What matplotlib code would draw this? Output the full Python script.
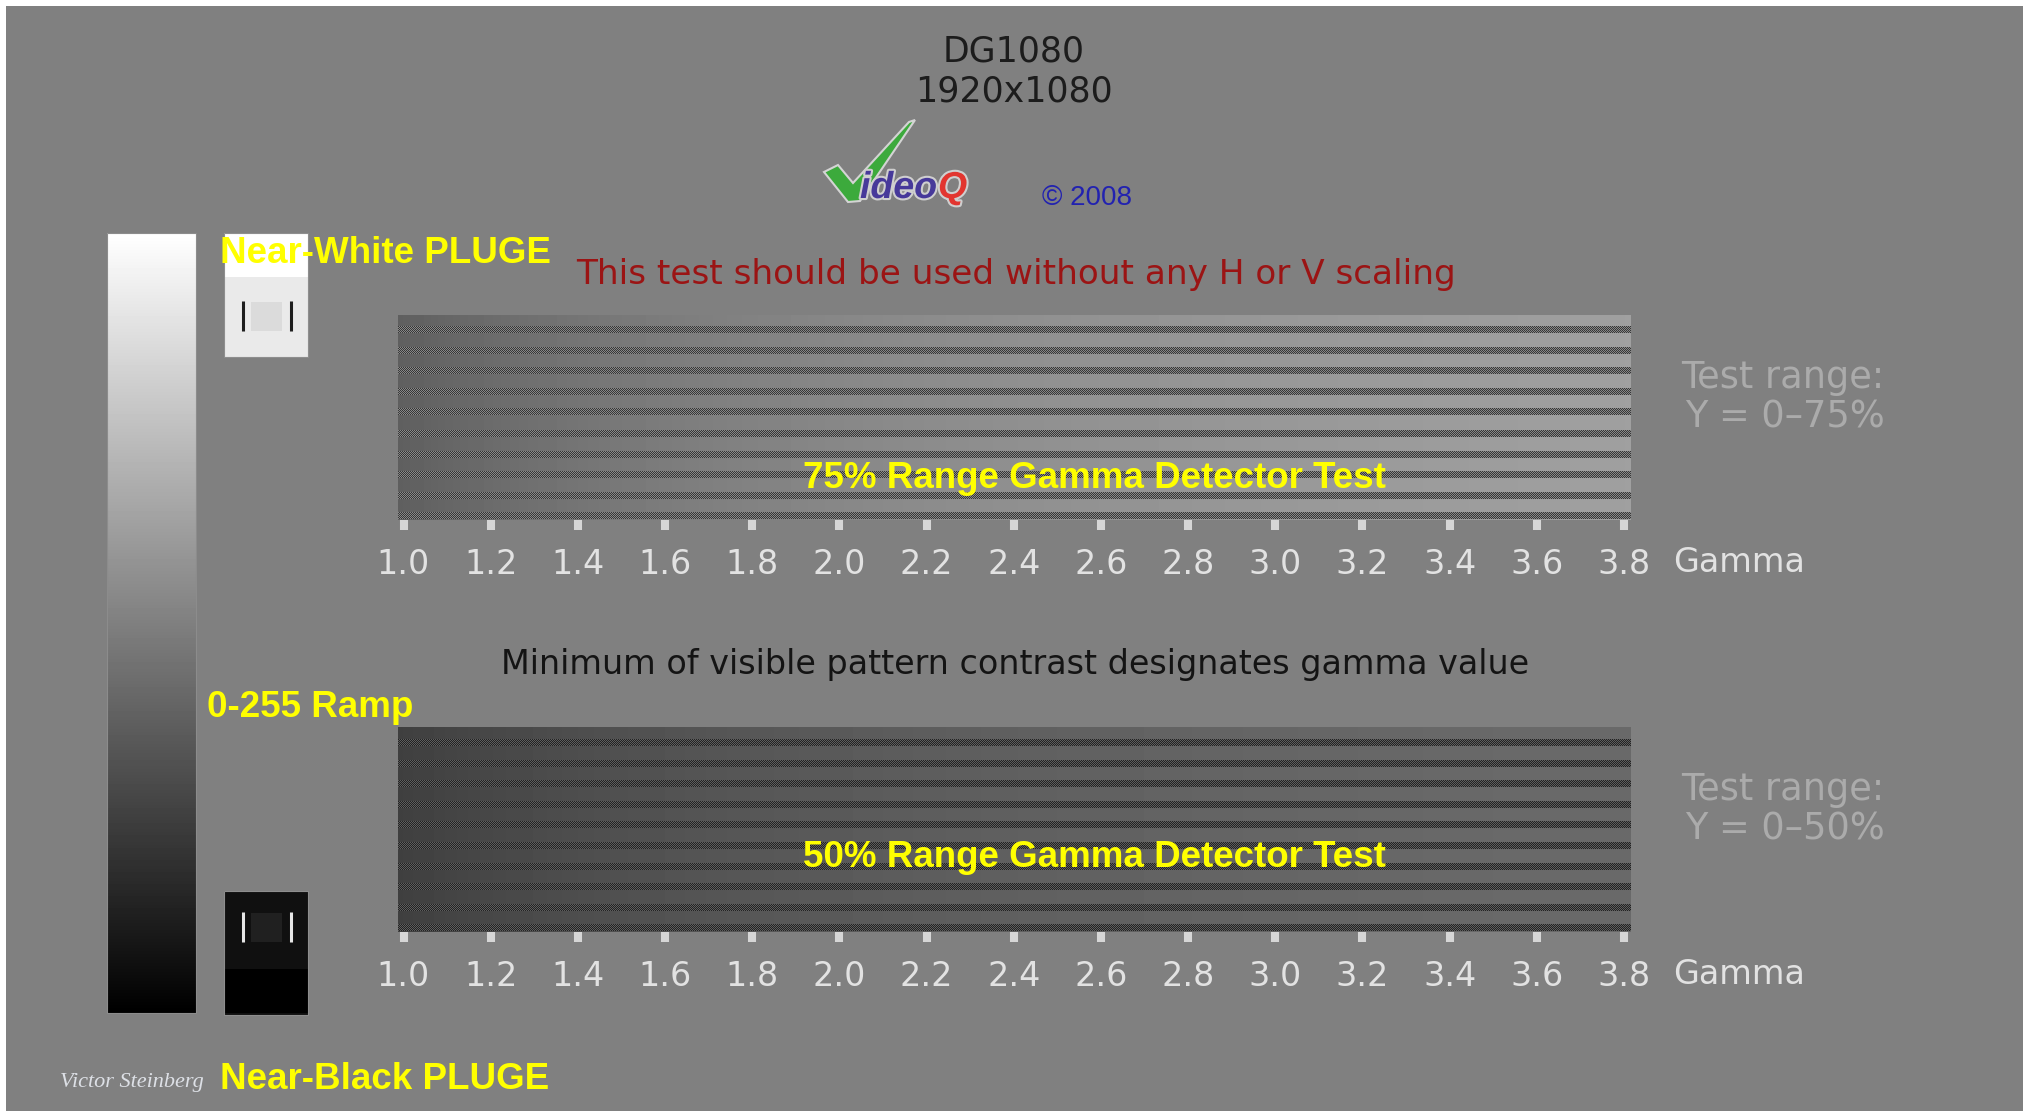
import numpy as np
import matplotlib
matplotlib.use("Agg")
import matplotlib.pyplot as plt
from matplotlib.patches import Rectangle, Polygon
import matplotlib.patheffects as pe

W, H = 2023, 1111

# --- pattern data ---
gamma_ticks = [1.0, 1.2, 1.4, 1.6, 1.8, 2.0, 2.2, 2.4, 2.6, 2.8, 3.0, 3.2, 3.4, 3.6, 3.8]
gamma_labels = ["%.1f" % g for g in gamma_ticks]
test_range = [75, 50]          # Y range of each detector, %
checker_lo = [55, 35]          # checkerboard pixel levels, 8 bit
checker_hi = [136, 93]
ramp_levels = np.arange(256)   # 0-255 ramp
near_white = [255, 234, 219]   # band, field, centre patch
near_black = [0, 16, 32]
bg_level = 128


def g8(v):
    v = v / 255.0
    return (v, v, v)


fig = plt.figure(figsize=(W / 100, H / 100), dpi=100, facecolor="white")

# base layer in pixel coordinates
ax = fig.add_axes([0, 0, 1, 1])
ax.add_patch(Rectangle((6, 6), W - 6, H - 6, color=g8(bg_level), lw=0, zorder=-5))

# 0-255 ramp
ax.imshow(ramp_levels[::-1].reshape(-1, 1), cmap="gray", vmin=0, vmax=255,
          extent=(107, 196, 1013, 233), aspect="auto", interpolation="bilinear", zorder=0)
ax.add_patch(Rectangle((107, 233), 89, 780, fill=False, ec="#8c8c8c", lw=0.8))
ax.set_xlim(0, W)
ax.set_ylim(H, 0)
ax.axis("off")

# PLUGE boxes
def pluge(top, levels, band_top, line_col):
    band, field, patch = levels
    ax.add_patch(Rectangle((224, top), 84, 124, color=g8(field), lw=0))
    if band_top:
        ax.add_patch(Rectangle((224, top), 84, 44, color=g8(band), lw=0))
        cy = top + 69
    else:
        ax.add_patch(Rectangle((224, top + 78), 84, 44, color=g8(band), lw=0))
        cy = top + 22
    ax.add_patch(Rectangle((251, cy), 31, 29, color=g8(patch), lw=0))
    ax.plot([243, 243], [cy - 1, cy + 29], color=line_col, lw=2.2, solid_capstyle="butt")
    ax.plot([291, 291], [cy - 1, cy + 29], color=line_col, lw=2.2, solid_capstyle="butt")
    ax.add_patch(Rectangle((224, top), 84, 124, fill=False, ec="#8e8e8e", lw=0.8))

pluge(233, near_white, True, "#1e1e1e")
pluge(891, near_black, False, "#e6e6e6")

# VideoQ logo
check = Polygon([(824, 172), (838, 165), (853, 183), (909, 122), (915, 120), (860, 201), (848, 202)],
                closed=True, fc="#3caa3c", ec="#d4d4d4", lw=1.5)
ax.add_patch(check)

# --- gamma detector bars ---
bar_top = [315, 727]
bar_x0, bar_x1, bar_h = 398, 1631, 205
px_per_gamma = 435.9
x_g1 = 403.5
g_lo = gamma_ticks[0] - (x_g1 - bar_x0) / px_per_gamma
g_hi = g_lo + (bar_x1 - bar_x0) / px_per_gamma
nx = bar_x1 - bar_x0
g_col = g_lo + (np.arange(nx) + 0.5) / px_per_gamma
rr, cc = np.mgrid[0:bar_h, 0:nx]

for i, top in enumerate(bar_top):
    lvl = test_range[i] / 100.0
    solid = 255 * lvl * 0.5 ** (1 / g_col)
    img = np.tile(solid, (bar_h, 1))
    checker = np.where((rr + cc) % 2 == 0, checker_lo[i], checker_hi[i])
    for k in range(10):
        r0 = int(round(12 + 20.6 * k))
        img[r0:r0 + 7] = checker[r0:r0 + 7]

    bx = fig.add_axes([bar_x0 / W, 1 - (top + bar_h) / H, nx / W, bar_h / H])
    bx.imshow(img, cmap="gray", vmin=0, vmax=255, extent=(g_lo, g_hi, bar_h, 0),
              aspect="auto", interpolation="nearest")
    bx.set_xlim(g_lo, g_hi)
    bx.set_xticks(gamma_ticks, labels=gamma_labels)
    bx.set_yticks([])
    for s in bx.spines.values():
        s.set_visible(False)
    bx.tick_params(axis="x", direction="out", length=7.5, width=5.8, color="#d6d6d6",
                   pad=12.5, labelsize=24, labelcolor="#e2e2e2")
    bx.annotate("Gamma", xy=(1, 0), xycoords="axes fraction", xytext=(42, -52),
                textcoords="offset pixels", ha="left", va="baseline", fontsize=24, color="#e2e2e2")
    bx.annotate("Test range:", xy=(1, 1), xycoords="axes fraction", xytext=(253, -73),
                textcoords="offset pixels", ha="right", va="baseline", fontsize=26.5, color="#ababab")
    bx.annotate("Y = 0\u2013%d%%" % test_range[i], xy=(1, 1), xycoords="axes fraction",
                xytext=(254, -113), textcoords="offset pixels", ha="right", va="baseline",
                fontsize=26.5, color="#ababab")

# --- overlay texts ---
ov = fig.add_axes([0, 0, 1, 1], zorder=10)
ov.set_xlim(0, W)
ov.set_ylim(H, 0)
ov.axis("off")

ov.text(1014, 62, "DG1080", fontsize=25, color="#1c1c1c", ha="center", va="baseline")
ov.text(1014, 102, "1920x1080", fontsize=25, color="#1c1c1c", ha="center", va="baseline")

glow = [pe.withStroke(linewidth=3, foreground="#cfcfcf")]
logo = ov.text(860, 198, "ideo", family="Liberation Sans", fontweight="bold", style="italic",
               fontsize=27, color="#47399a", ha="left", va="baseline", path_effects=glow)
ov.annotate("Q", xy=(1, 0), xycoords=logo, xytext=(1, 0), textcoords="offset pixels",
            family="Liberation Sans", fontweight="bold", style="italic",
            fontsize=27, color="#e2352f", ha="left", va="bottom", path_effects=glow)
ov.text(1042, 205, "\u00a9 2008", family="Liberation Sans", fontsize=20, color="#2222b0",
        ha="left", va="baseline")

ov.text(1016, 284, "This test should be used without any H or V scaling", fontsize=24.7,
        color="#9b1414", ha="center", va="baseline")
ov.text(1015, 674, "Minimum of visible pattern contrast designates gamma value", fontsize=24,
        color="#141414", ha="center", va="baseline")

yel = dict(family="Liberation Sans", fontweight="bold", fontsize=26.5, color="#ffff00",
           ha="left", va="baseline")
ov.text(220, 263, "Near-White PLUGE", **yel)
ov.text(207, 717, "0-255 Ramp", **yel)
ov.text(220, 1089, "Near-Black PLUGE", **yel)
ov.text(803, 488, "%d%% Range Gamma Detector Test" % test_range[0], **yel)
ov.text(803, 867, "%d%% Range Gamma Detector Test" % test_range[1], **yel)

ov.text(60, 1087, "Victor Steinberg", family="Liberation Serif", style="italic",
        fontsize=16, color="#dde0e6", ha="left", va="baseline")

fig.savefig("out.png", dpi=100, facecolor="white")
